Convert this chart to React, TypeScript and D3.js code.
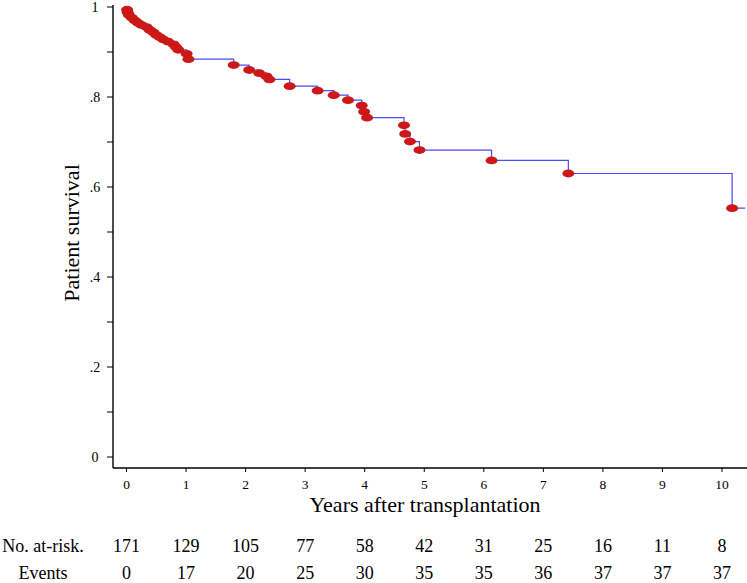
import React from "react";
import * as d3 from "d3";

// Kaplan-Meier event times (years) and survival after each event
const eventTimes = [
  0.01, 0.02, 0.04, 0.09, 0.14, 0.19, 0.25, 0.34, 0.39, 0.45, 0.5, 0.56, 0.62, 0.7, 0.79, 0.83, 0.87,
  1.01, 1.04, 1.8, 2.06, 2.23, 2.35, 2.4, 2.74, 3.21, 3.48, 3.72, 3.95, 3.99, 4.04, 4.66, 4.68, 4.76,
  4.92, 6.13, 7.42, 10.17,
];
const survival = [
  0.994, 0.988, 0.982, 0.976, 0.97, 0.965, 0.96, 0.955, 0.949, 0.944, 0.938, 0.933, 0.928, 0.923,
  0.917, 0.911, 0.905, 0.896, 0.884, 0.871, 0.86, 0.853, 0.846, 0.839, 0.824, 0.814, 0.804, 0.793,
  0.781, 0.767, 0.754, 0.737, 0.718, 0.701, 0.682, 0.659, 0.63, 0.553,
];
const endTime = 10.39;

const xTicks = [0, 1, 2, 3, 4, 5, 6, 7, 8, 9, 10];
const yTicks = [0, 0.1, 0.2, 0.3, 0.4, 0.5, 0.6, 0.7, 0.8, 0.9, 1];
const yLabelTicks = [0, 0.2, 0.4, 0.6, 0.8, 1];

const atRisk = [171, 129, 105, 77, 58, 42, 31, 25, 16, 11, 8];
const eventsCount = [0, 17, 20, 25, 30, 35, 35, 36, 37, 37, 37];

const W = 747;
const H = 583;
const FONT = "'Liberation Serif', 'Times New Roman', serif";

export default function App() {
  const left = 113;
  const right = 747;
  const top = 5;
  const bottom = 468;

  const x = d3.scaleLinear().domain([0, 10]).range([126.5, 722]);
  const y = d3.scaleLinear().domain([0, 1]).range([457, 7]);

  const pts: [number, number][] = [[0, 1]];
  eventTimes.forEach((t, i) => pts.push([t, survival[i]]));
  pts.push([endTime, survival[survival.length - 1]]);

  const line = d3
    .line<[number, number]>()
    .x((d) => x(d[0]))
    .y((d) => y(d[1]))
    .curve(d3.curveStepAfter);

  const fmtY = (v: number) =>
    v === 0 ? "0" : v === 1 ? "1" : d3.format(".1f")(v).replace(/^0/, "");

  return (
    <svg
      width={W}
      height={H}
      style={{ position: "absolute", left: 0, top: 0, background: "#fff" }}
      fontFamily={FONT}
    >
      {/* curve */}
      <path d={line(pts) || ""} fill="none" stroke="#4a4aff" strokeWidth={1.2} />
      {eventTimes.map((t, i) => (
        <ellipse
          key={i}
          cx={x(t)}
          cy={y(survival[i])}
          rx={6}
          ry={3.9}
          fill="#cc1818"
        />
      ))}

      {/* y axis */}
      <line x1={left} x2={left} y1={top} y2={bottom} stroke="#000" strokeWidth={1.4} />
      {yTicks.map((v) => (
        <line key={v} x1={left - 6} x2={left} y1={y(v)} y2={y(v)} stroke="#000" strokeWidth={1} />
      ))}
      {yLabelTicks.map((v) => (
        <text
          key={v}
          x={95}
          y={y(v)}
          dy="0.35em"
          textAnchor="middle"
          fontSize={14}
          fill="#000"
        >
          {fmtY(v)}
        </text>
      ))}
      <text
        transform={`translate(79,233) rotate(-90)`}
        textAnchor="middle"
        fontSize={22}
        fill="#000"
      >
        Patient survival
      </text>

      {/* x axis */}
      <line x1={left} x2={right} y1={bottom} y2={bottom} stroke="#000" strokeWidth={1.4} />
      {xTicks.map((v) => (
        <g key={v}>
          <line x1={x(v)} x2={x(v)} y1={bottom} y2={bottom + 4} stroke="#000" strokeWidth={1} />
          <text x={x(v)} y={484} dy="0.35em" textAnchor="middle" fontSize={13.5} fill="#000">
            {v}
          </text>
        </g>
      ))}
      <text x={425} y={512} textAnchor="middle" fontSize={22} fill="#000">
        Years after transplantation
      </text>

      {/* risk table */}
      <text x={43} y={551.5} textAnchor="middle" fontSize={18} fill="#000">
        No. at-risk.
      </text>
      <text x={43} y={579} textAnchor="middle" fontSize={18} fill="#000">
        Events
      </text>
      {xTicks.map((v, i) => (
        <g key={"r" + v}>
          <text x={x(v)} y={551.5} textAnchor="middle" fontSize={18} fill="#000">
            {atRisk[i]}
          </text>
          <text x={x(v)} y={579} textAnchor="middle" fontSize={18} fill="#000">
            {eventsCount[i]}
          </text>
        </g>
      ))}
    </svg>
  );
}
